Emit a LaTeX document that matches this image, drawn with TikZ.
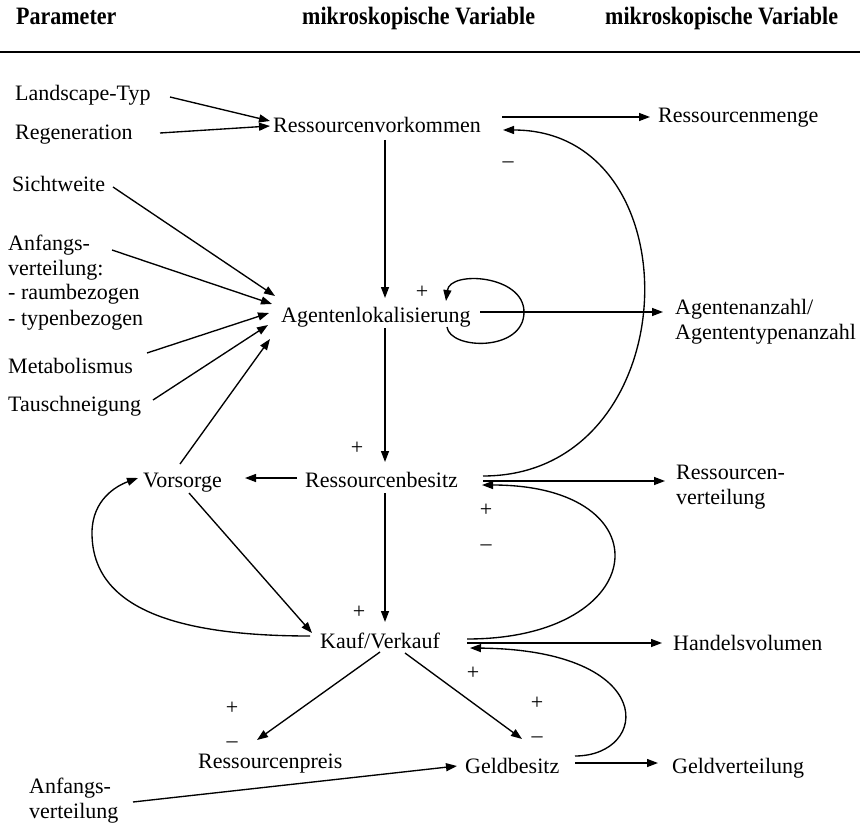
\documentclass[tikz,border=0pt]{standalone}
\usepackage{fontspec}
\setmainfont{Liberation Serif}
\usetikzlibrary{arrows.meta,calc}
\begin{document}
\begin{tikzpicture}[x=1pt,y=-1pt,
  lbl/.style={inner sep=0pt,anchor=base west,font=\fontsize{22}{25}\selectfont},
  hdr/.style={inner sep=0pt,anchor=base west},
  sgn/.style={inner sep=0pt,font=\fontsize{22}{25}\selectfont},
  link/.style={line width=1.35pt,-{Triangle[length=11pt,width=8pt]}},
]
\useasboundingbox (0,0) rectangle (860,824);

% column headings and rule
\node[hdr] (hpar)  at (16,25)  {\scalebox{0.88}[1]{\fontsize{25}{28}\selectfont\bfseries Parameter}};
\node[hdr] (hmik1) at (302,25) {\scalebox{0.88}[1]{\fontsize{25}{28}\selectfont\bfseries mikroskopische Variable}};
\node[hdr] (hmik2) at (605,25) {\scalebox{0.88}[1]{\fontsize{25}{28}\selectfont\bfseries mikroskopische Variable}};
\draw[line width=1.8pt] (0,52) -- (860,52);

% variables and parameters
\node[lbl] (land)   at (15,101)  {Landscape-Typ};
\node[lbl] (regen)  at (15,140)  {Regeneration};
\node[lbl] (rvork)  at (273,133) {Ressourcenvorkommen};
\node[lbl] (rmenge) at (658,123) {Ressourcenmenge};
\node[lbl] (sicht)  at (12,192)  {Sichtweite};
\node[lbl] (anf)    at (8,250)   {\begin{tabular}[t]{@{}l@{}}Anfangs-\\verteilung:\\- raumbezogen\\- typenbezogen\end{tabular}};
\node[lbl] (metab)  at (8,373)   {Metabolismus};
\node[lbl] (tausch) at (8,411)   {Tauschneigung};
\node[lbl] (agent)  at (281,322) {Agentenlokalisierung};
\node[lbl] (aanz)   at (675,314) {\begin{tabular}[t]{@{}l@{}}Agentenanzahl/\\Agententypenanzahl\end{tabular}};
\node[lbl] (vors)   at (143,487) {Vorsorge};
\node[lbl] (rbes)   at (305,487) {Ressourcenbesitz};
\node[lbl] (rvert)  at (676,479) {\begin{tabular}[t]{@{}l@{}}Ressourcen-\\verteilung\end{tabular}};
\node[lbl] (kauf)   at (320,648) {Kauf/Verkauf};
\node[lbl] (handel) at (673,650) {Handelsvolumen};
\node[lbl] (rpreis) at (198,768) {Ressourcenpreis};
\node[lbl] (geld)   at (465,773) {Geldbesitz};
\node[lbl] (geldv)  at (672,773) {Geldverteilung};
\node[lbl] (anf2)   at (29,793)  {\begin{tabular}[t]{@{}l@{}}Anfangs-\\verteilung\end{tabular}};

% signs of the effects
\node[sgn] (s1)  at (508,165) {–};
\node[sgn] (s2)  at (422,292) {+};
\node[sgn] (s3)  at (357,448) {+};
\node[sgn] (s4)  at (359,612) {+};
\node[sgn] (s5)  at (486,510) {+};
\node[sgn] (s6)  at (486,548) {–};
\node[sgn] (s7)  at (473,673) {+};
\node[sgn] (s8)  at (537,703) {+};
\node[sgn] (s9)  at (537,740) {–};
\node[sgn] (s10) at (232,708) {+};
\node[sgn] (s11) at (232,745) {–};

% inputs of Ressourcenvorkommen
\draw[link] ($(land.base west)+(155,-4)$) -- ($(rvork.base west)+(-3,-12)$);
\draw[link] ($(regen.base west)+(145,-7)$) -- ($(rvork.base west)+(-3,-7)$);
\draw[link] ($(rvork.base west)+(229,-16)$) -- ($(rmenge.base west)+(-8,-6)$);
\draw[link] ($(rbes.base west)+(178,-11)$) .. controls +(205,0) and +(195,0) .. ($(rvork.base west)+(230,-3)$);
\draw[link] ($(rvork.base west)+(112,7)$) -- ($(agent.base west)+(104,-24)$);

% inputs of Agentenlokalisierung
\draw[link] ($(sicht.base west)+(101,-5)$) -- ($(agent.base west)+(-6,-26)$);
\draw[link] ($(anf.base west)+(104,0)$) -- ($(agent.base west)+(-9,-18)$);
\draw[link] ($(metab.base west)+(139,-20)$) -- ($(agent.base west)+(-12,-9)$);
\draw[link] ($(tausch.base west)+(145,-11)$) -- ($(agent.base west)+(-13,3)$);
\draw[link] ($(vors.base west)+(37,-23)$) -- ($(agent.base west)+(-11,17)$);
\draw[link] ($(agent.base west)+(166,5)$) .. controls +(3,23) and +(0,40) .. ($(agent.base west)+(243,-10)$)
            .. controls +(0,-37) and +(4,-31) .. ($(agent.base west)+(165,-21)$);
\draw[link] ($(agent.base west)+(199,-10)$) -- ($(aanz.base west)+(-12,-2)$);
\draw[link] ($(agent.base west)+(104,6)$) -- ($(rbes.base west)+(80,-25)$);

% Ressourcenbesitz and Vorsorge
\draw[link] ($(rbes.base west)+(-8,-9)$) -- ($(vors.base west)+(102,-9)$);
\draw[link] ($(vors.base west)+(46,6)$) -- ($(kauf.base west)+(-8,-15)$);
\draw[link] ($(kauf.base west)+(-10,-12)$) .. controls +(-130,0) and +(0,77) .. ($(vors.base west)+(-51,46)$)
            .. controls +(0,-33) and +(-22,8) .. ($(vors.base west)+(-5,-9)$);
\draw[link] ($(rbes.base west)+(80,6)$) -- ($(kauf.base west)+(65,-26)$);
\draw[link] ($(rbes.base west)+(178,-6)$) -- ($(rvert.base west)+(-11,2)$);
\draw[link] ($(kauf.base west)+(147,-9)$) .. controls +(185,0) and +(185,0) .. ($(rbes.base west)+(177,-2)$);

% Kauf/Verkauf and its results
\draw[link] ($(kauf.base west)+(147,-5)$) -- ($(handel.base west)+(-11,-7)$);
\draw[link] ($(geld.base west)+(110,-17)$) .. controls +(75,0) and +(190,2) .. ($(kauf.base west)+(150,0)$);
\draw[link] ($(kauf.base west)+(60,4)$) -- ($(rpreis.base west)+(59,-28)$);
\draw[link] ($(kauf.base west)+(85,5)$) -- ($(geld.base west)+(57,-34)$);
\draw[link] ($(geld.base west)+(110,-10)$) -- ($(geldv.base west)+(-14,-10)$);
\draw[link] ($(anf2.base west)+(104,9)$) -- ($(geld.base west)+(-8,-7)$);
\end{tikzpicture}
\end{document}
